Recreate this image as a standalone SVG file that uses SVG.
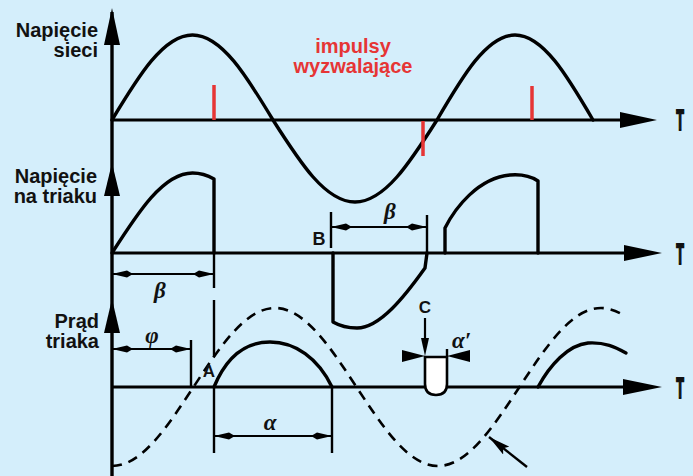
<svg xmlns="http://www.w3.org/2000/svg" width="693" height="476" viewBox="0 0 693 476">
<style>
.lbl{font-family:"Liberation Sans",Arial,sans-serif;font-weight:bold;font-size:20px;fill:#111}
.red{font-family:"Liberation Sans",Arial,sans-serif;font-weight:bold;font-size:20px;fill:#e63535}
.pt{font-family:"Liberation Sans",Arial,sans-serif;font-weight:bold;font-size:18px;fill:#111}
.gr{font-family:"Liberation Serif","Times New Roman",serif;font-style:italic;font-weight:bold;font-size:23px;fill:#111}
.tt{font-family:"Liberation Sans",Arial,sans-serif;font-weight:bold;font-size:30px;fill:#111;stroke:#111;stroke-width:2}
.ax{stroke:#000;stroke-width:3;fill:none}
.wave{stroke:#000;stroke-width:3.4;fill:none;stroke-linejoin:round;stroke-linecap:round}
.dash{stroke:#000;stroke-width:2.6;fill:none;stroke-dasharray:10 7}
.ext{stroke:#000;stroke-width:2.4;fill:none}
.dim{stroke:#000;stroke-width:2;fill:none;marker-start:url(#dimA);marker-end:url(#dimA)}
.imp{stroke:#e63535;stroke-width:3.5}
.head{fill:#000}
</style>
<defs>
<marker id="dimA" viewBox="0 0 21 8" refX="21" refY="4" markerWidth="21" markerHeight="8" markerUnits="userSpaceOnUse" orient="auto-start-reverse">
<path d="M21,4 L6,0.6 L0,4 L6,7.4 Z" fill="#000"/>
</marker>
<marker id="arr" viewBox="0 0 22 10" refX="22" refY="5" markerWidth="22" markerHeight="10" markerUnits="userSpaceOnUse" orient="auto">
<path d="M22,5 L0,0 L4,5 L0,10 Z" fill="#000"/>
</marker>
</defs>
<rect width="693" height="476" fill="#d4eefb"/>

<g id="axes">
<line class="ax" x1="112" y1="12" x2="112" y2="476" style="stroke-width:3.4"/>
<polygon class="head" points="112,8 120,45 104,45"/>
<polygon class="head" points="112,163 120,196 104,196"/>
<polygon class="head" points="112,299 120,333 104,333"/>
<line class="ax" x1="112" y1="120" x2="630" y2="120"/>
<polygon class="head" points="620,112 657,120 620,128"/>
<line class="ax" x1="112" y1="253" x2="630" y2="253"/>
<polygon class="head" points="624,245 662,253 624,261"/>
<line class="ax" x1="112" y1="387" x2="630" y2="387"/>
<polygon class="head" points="623,379 662,387 623,395"/>
<text class="tt" x="680" y="130" text-anchor="middle" transform="translate(680 0) scale(0.42 1) translate(-680 0)">T</text>
<text class="tt" x="680" y="264" text-anchor="middle" transform="translate(680 0) scale(0.42 1) translate(-680 0)">T</text>
<text class="tt" x="680" y="398" text-anchor="middle" transform="translate(680 0) scale(0.42 1) translate(-680 0)">T</text>
</g>

<g id="napiecie-sieci">
<text class="lbl" x="98" y="37" text-anchor="end">Napięcie</text>
<text class="lbl" x="98" y="57" text-anchor="end">sieci</text>
<path class="wave" d="M112,120 C138.2,76.5 163.4,35 192.5,35 C221.6,35 246.8,76.5 273,120 C299.7,162 325.3,202 355,202 C384.7,202 410.3,162 437,120 C462.4,76.5 486.8,35 515,35 C543.2,35 567.6,76.5 593,120"/>
</g>

<g id="impulsy">
<line class="imp" x1="214" y1="85" x2="214" y2="120"/>
<line class="imp" x1="423" y1="121" x2="423" y2="156"/>
<line class="imp" x1="532" y1="86" x2="532" y2="120"/>
<text class="red" x="353" y="53" text-anchor="middle">impulsy</text>
<text class="red" x="353" y="73" text-anchor="middle">wyzwalające</text>
</g>

<g id="napiecie-triaka">
<text class="lbl" x="97" y="183" text-anchor="end">Napięcie</text>
<text class="lbl" x="97" y="203" text-anchor="end">na triaku</text>
<path class="wave" d="M112,253 C138.2,212 163.4,173 192.5,173 C201,173 208,175.5 214,179 L214,253"/>
<path class="wave" d="M333,253 L333,322 C340,326 348,328 357,328 C380,328 405,296 425,268 L427,253"/>
<path class="wave" d="M445,253 L445,228 C455,208 478,178 510,175 C522,174 532,177 538,181 L538,253"/>
<text class="pt" x="319" y="245" text-anchor="middle">B</text>
</g>

<g id="prad-triaka">
<text class="lbl" x="99" y="328" text-anchor="end">Prąd</text>
<text class="lbl" x="99" y="348" text-anchor="end">triaka</text>
<path class="dash" d="M112,466 C141.5,466 166.9,427.4 193.5,387 C220.1,346.6 245.5,308 275,308 C304.5,308 329.9,346.6 356.5,387 C383.1,427.4 408.5,466 438,466 C467.5,466 492.9,427.4 519.5,387 C546.1,346.6 571.5,308 601,308 C609,308 617,311 625,316"/>
<path class="wave" d="M214,387 C226,358 245,342 270,342 C295,342 318,358 332,387"/>
<path class="wave" d="M538,387 C550,365 568,345 588,343 C605,342 615,347 626,353"/>
<path d="M425,357 H447 V384 Q447,395 436,395 Q425,395 425,384 Z" fill="#fff" stroke="#000" stroke-width="2.6"/>
<text class="pt" x="209" y="377" text-anchor="middle" style="font-size:17px">A</text>
<text class="pt" x="425" y="313" text-anchor="middle" style="font-size:17px">C</text>
</g>

<g id="connectors">
<line class="ext" x1="214" y1="253" x2="214" y2="288"/>
<line class="ext" x1="214" y1="300" x2="214" y2="357"/>
<line class="ext" x1="214" y1="387" x2="214" y2="453"/>
<line class="ext" x1="331" y1="212" x2="331" y2="248"/>
<line class="ext" x1="427" y1="215" x2="427" y2="253"/>
<line class="ext" x1="191" y1="340" x2="191" y2="387"/>
<line class="ext" x1="332" y1="387" x2="332" y2="453"/>
<line class="ext" x1="447" y1="349" x2="447" y2="357"/>
<line class="dim" x1="112" y1="274" x2="214" y2="274"/>
<line class="dim" x1="331" y1="227" x2="427" y2="227"/>
<line class="dim" x1="112" y1="349" x2="191" y2="349"/>
<line class="dim" x1="214" y1="436" x2="332" y2="436"/>
<line x1="425" y1="318" x2="425" y2="340" stroke="#000" stroke-width="2.2"/>
<polygon class="head" points="421,338 429,338 425,356"/>
<polygon class="head" points="402,350 402,362 425,356"/>
<polygon class="head" points="470,350 470,362 447,356"/>
<line x1="527" y1="467" x2="489" y2="437" stroke="#000" stroke-width="2.4" marker-end="url(#arr)"/>
<text class="gr" x="160" y="298" text-anchor="middle">β</text>
<text class="gr" x="390" y="219" text-anchor="middle">β</text>
<text class="gr" x="152" y="343" text-anchor="middle">φ</text>
<text class="gr" x="270" y="430" text-anchor="middle">α</text>
<text class="gr" x="452" y="348">α′</text>
</g>
</svg>
